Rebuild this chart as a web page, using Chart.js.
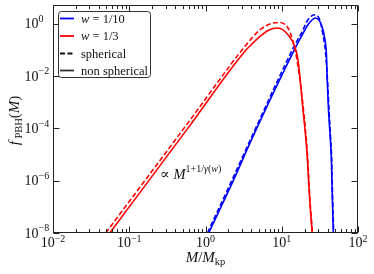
<!DOCTYPE html>
<html lang="en">
<head>
<meta charset="UTF-8">
<script src="https://cdn.jsdelivr.net/npm/chart.js@4.4.0/dist/chart.umd.min.js"></script>
<title>PBH mass function</title>
<style>
  html, body { margin: 0; padding: 0; background: #fff; }
</style>
</head>
<body>
<canvas id="myChart" width="374" height="274"></canvas>
<script>
// values: M/M_kp and f_PBH(M)
const redSolidM = [0.0555, 0.585, 3.27, 3.98, 4.89, 6.61, 8.93, 12.08, 14.79, 16.33, 19.01, 21.43, 23.28, 25.06];
const redSolidF = [1e-8, 1.0e-4, 0.0871, 0.158, 0.284, 0.555, 0.684, 0.379, 0.135, 0.0419, 5.1e-4, 1.15e-5, 1.83e-7, 1e-8];

const redDashM = [0.0491, 0.585, 3.27, 3.98, 4.89, 6.61, 8.93, 12.08, 14.06, 15.56, 19.28, 21.63, 23.44, 25.29];
const redDashF = [1e-8, 1.58e-4, 0.135, 0.263, 0.507, 0.916, 1.12, 0.684, 0.21, 0.056, 5.1e-4, 1.15e-5, 1.83e-7, 1e-8];

const blueSolidM = [1.10, 2.37, 4.0, 14.79, 18.11, 22.08, 27.61, 33.11, 36.56, 38.55, 39.45, 41.02, 43.45, 44.77, 46.13, 47.53];
const blueSolidF = [1e-8, 1.17e-6, 3.63e-5, 0.107, 0.327, 0.916, 1.65, 0.916, 0.284, 0.065, 7.24e-3, 5.1e-4, 3.63e-5, 6.17e-6, 1.83e-7, 1e-8];

const blueDashM = [1.06, 2.23, 4.0, 14.79, 18.11, 22.08, 27.04, 31.48, 34.75, 37.41, 39.81, 41.69, 43.85, 45.19, 46.56, 47.97];
const blueDashF = [1e-8, 1.07e-6, 4.47e-5, 0.151, 0.441, 1.42, 2.21, 1.42, 0.379, 0.087, 7.24e-3, 5.1e-4, 3.63e-5, 6.17e-6, 1.83e-7, 1e-8];

// tick labels (exponents of 10)
const xTickExp = [-2, -1, 0, 1, 2];
const yTickExp = [-8, -6, -4, -2, 0];

const SERIF = '"Liberation Serif", "DejaVu Serif", serif';
const INK = '#222';

function pts(ms, fs) {
  return ms.map((m, i) => ({ x: m, y: fs[i] }));
}

function curve(ms, fs, color, dashed) {
  return {
    data: pts(ms, fs),
    borderColor: color,
    borderWidth: 1.6,
    borderDash: dashed ? [5, 2.5] : [],
    pointRadius: 0,
    fill: false,
    cubicInterpolationMode: 'monotone'
  };
}

function expText(e) {
  return e < 0 ? '\u2212' + (-e) : String(e);
}

// draw a list of text runs one after another
function runsWidth(ctx, runs) {
  let w = 0;
  runs.forEach(r => { ctx.font = r.font; w += ctx.measureText(r.t).width; });
  return w;
}
function drawRuns(ctx, runs, x, y) {
  runs.forEach(r => {
    ctx.font = r.font;
    ctx.fillText(r.t, x, y + (r.dy || 0));
    x += ctx.measureText(r.t).width;
  });
}

const decor = {
  id: 'decor',
  afterDatasetsDraw(chart) {
    const ctx = chart.ctx;
    const a = chart.chartArea;
    const sx = chart.scales.x, sy = chart.scales.y;
    ctx.save();
    ctx.strokeStyle = INK;
    ctx.lineWidth = 1;
    ctx.setLineDash([]);
    const L = Math.round(a.left) + 0.5, R = Math.round(a.right) - 0.5;
    const T = Math.round(a.top) + 0.5, B = Math.round(a.bottom) - 0.5;
    ctx.strokeRect(L, T, R - L, B - T);

    // x ticks, top and bottom, pointing in
    ctx.beginPath();
    for (let d = -2; d <= 2; d++) {
      for (let k = 1; k <= 9; k++) {
        if (d === 2 && k > 1) break;
        const v = k * Math.pow(10, d);
        const px = Math.round(sx.getPixelForValue(v)) + 0.5;
        const len = k === 1 ? 6 : 3.5;
        ctx.moveTo(px, B); ctx.lineTo(px, B - len);
        ctx.moveTo(px, T); ctx.lineTo(px, T + len);
      }
    }
    // y ticks, left and right
    yTickExp.forEach(e => {
      const py = Math.round(sy.getPixelForValue(Math.pow(10, e))) + 0.5;
      ctx.moveTo(L, py); ctx.lineTo(L + 6, py);
      ctx.moveTo(R, py); ctx.lineTo(R - 6, py);
    });
    ctx.stroke();

    ctx.fillStyle = '#111';
    ctx.textBaseline = 'alphabetic';
    ctx.textAlign = 'left';
    const baseF = '14px ' + SERIF;
    const expF = '10px ' + SERIF;

    // x tick labels
    xTickExp.forEach(e => {
      const runs = [{ t: '10', font: baseF }, { t: expText(e), font: expF, dy: -5.5 }];
      const w = runsWidth(ctx, runs);
      const px = sx.getPixelForValue(Math.pow(10, e));
      drawRuns(ctx, runs, px - w / 2, 247);
    });
    // y tick labels
    yTickExp.forEach(e => {
      const py = sy.getPixelForValue(Math.pow(10, e));
      const runs = [{ t: '10', font: baseF }, { t: expText(e), font: expF, dy: -6.5 }];
      drawRuns(ctx, runs, 24.5, py + 4.7);
    });

    // x axis label
    const it15 = 'italic 15px ' + SERIF, up15 = '15px ' + SERIF, sub = '10.5px ' + SERIF;
    const xl = [{ t: 'M', font: it15 }, { t: '/', font: up15 }, { t: 'M', font: it15 }, { t: 'kp', font: sub, dy: 3 }];
    drawRuns(ctx, xl, 205.5 - runsWidth(ctx, xl) / 2, 262);

    // y axis label
    const yl = [{ t: 'f', font: it15 }, { t: ' PBH', font: sub, dy: 3 }, { t: '(', font: up15 }, { t: 'M', font: it15 }, { t: ')', font: up15 }];
    ctx.save();
    ctx.translate(19, 120.5);
    ctx.rotate(-Math.PI / 2);
    drawRuns(ctx, yl, -runsWidth(ctx, yl) / 2, 0);
    ctx.restore();

    // power law annotation
    const it14 = 'italic 14.5px ' + SERIF, up14 = '14.5px ' + SERIF;
    const sup = '10px ' + SERIF, supI = 'italic 10px ' + SERIF;
    drawRuns(ctx, [
      { t: '\u221D ', font: up14 },
      { t: 'M', font: it14 },
      { t: '1+1/', font: sup, dy: -7 },
      { t: '\u03B3', font: supI, dy: -7 },
      { t: '(', font: sup, dy: -7 },
      { t: 'w', font: supI, dy: -7 },
      { t: ')', font: sup, dy: -7 }
    ], 160, 179);

    // legend
    ctx.beginPath();
    ctx.roundRect(58.5, 11.5, 92, 66, 3);
    ctx.fillStyle = 'rgba(255,255,255,0.85)';
    ctx.fill();
    ctx.strokeStyle = '#333';
    ctx.lineWidth = 1;
    ctx.stroke();

    const it12 = 'italic 12.5px ' + SERIF, up12 = '12.5px ' + SERIF;
    const rows = [
      { color: '#0000ff', dash: [], text: [{ t: 'w', font: it12 }, { t: ' = 1/10', font: up12 }] },
      { color: '#ff0000', dash: [], text: [{ t: 'w', font: it12 }, { t: ' = 1/3', font: up12 }] },
      { color: '#111', dash: [5, 2.5], text: [{ t: 'spherical', font: up12 }] },
      { color: '#333', dash: [], text: [{ t: 'non spherical', font: up12 }] }
    ];
    const rowY = [18.5, 36, 53.5, 70.5];
    rows.forEach((r, i) => {
      ctx.beginPath();
      ctx.setLineDash(r.dash);
      ctx.strokeStyle = r.color;
      ctx.lineWidth = 1.8;
      ctx.moveTo(60, rowY[i]); ctx.lineTo(74, rowY[i]);
      ctx.stroke();
      ctx.fillStyle = '#111';
      drawRuns(ctx, r.text, 81, rowY[i] + 4);
    });
    ctx.restore();
  }
};

const ctx = document.getElementById('myChart').getContext('2d');
const myChart = new Chart(ctx, {
  type: 'line',
  data: {
    datasets: [
      curve(redDashM, redDashF, '#ff0000', true),
      curve(redSolidM, redSolidF, '#ff0000', false),
      curve(blueDashM, blueDashF, '#0000ff', true),
      curve(blueSolidM, blueSolidF, '#0000ff', false)
    ]
  },
  options: {
    responsive: false,
    animation: false,
    layout: { padding: { left: 53, right: 16, top: 5, bottom: 41 } },
    plugins: { legend: { display: false }, tooltip: { enabled: false } },
    scales: {
      x: {
        type: 'logarithmic', min: 0.01, max: 100,
        ticks: { display: false }, grid: { display: false }, border: { display: false },
        afterFit: s => { s.height = 0; }
      },
      y: {
        type: 'logarithmic', min: 1e-8, max: 5.2,
        ticks: { display: false }, grid: { display: false }, border: { display: false },
        afterFit: s => { s.width = 0; }
      }
    }
  },
  plugins: [decor]
});
</script>
</body>
</html>
